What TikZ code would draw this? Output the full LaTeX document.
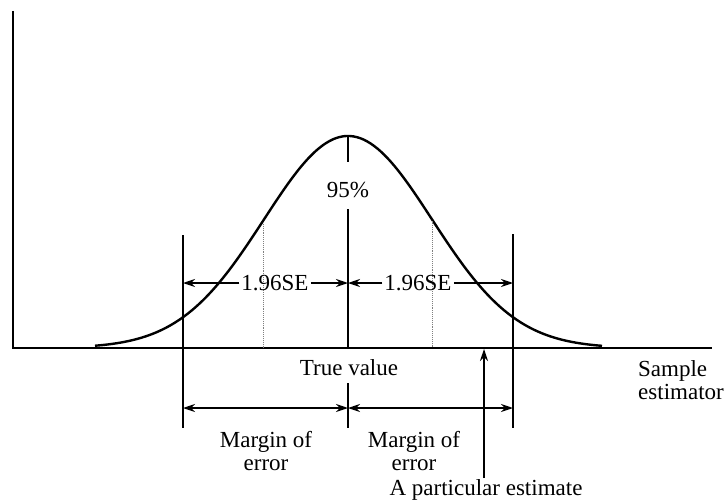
\documentclass[tikz,border=0pt]{standalone}
\usepackage{fontspec}
\setmainfont{Liberation Serif}
\usetikzlibrary{arrows.meta}
\begin{document}
\begin{tikzpicture}[x=1pt,y=-1pt,
  lbl/.style={font=\fontsize{23}{23}\selectfont, inner sep=2pt, align=center},
  axisline/.style={line width=1.4pt},
  bound/.style={line width=1.3pt},
  curveline/.style={line width=2.4pt},
  sdline/.style={gray, densely dotted, line width=0.9pt},
  tipone/.style={-{Stealth[length=12pt,width=8pt]}, line width=1.3pt},
  tiptwo/.style={{Stealth[length=12pt,width=8pt]}-{Stealth[length=12pt,width=8pt]}, line width=1.3pt}]
\useasboundingbox (0,0) rectangle (725,503);
% axes
\coordinate (O) at (13,348);
\coordinate (Ytop) at (13,11);
\coordinate (Xend) at (712,348);
\draw[axisline] (Ytop) -- (O) -- (Xend);
% curve
\draw[curveline, domain=95:602, samples=150, smooth]
  plot (\x, {348-212*exp(-0.5*((\x-348)/84)^2)});
% center line
\coordinate (peak) at (348,136);
\coordinate (peakb) at (348,162);
\coordinate (cmid) at (348,209);
\coordinate (caxis) at (348,348);
\coordinate (ctop2) at (348,383);
\coordinate (cbot) at (348,428);
\node[lbl] (p95) at (348,190) {95\%};
\draw[bound] (peak) -- (peakb);
\draw[bound] (cmid) -- (caxis);
\draw[bound] (ctop2) -- (cbot);
% bounds
\coordinate (Lt) at (183,235);
\coordinate (Lb) at (183,428);
\coordinate (Rt) at (513,234);
\coordinate (Rb) at (513,428);
\draw[bound] (Lt) -- (Lb);
\draw[bound] (Rt) -- (Rb);
% 1 SE dotted lines
\coordinate (s1t) at (263,222);
\coordinate (s1b) at (263,348);
\coordinate (s2t) at (432,221);
\coordinate (s2b) at (432,348);
\draw[sdline] (s1t) -- (s1b);
\draw[sdline] (s2t) -- (s2b);
% 1.96SE arrows
\coordinate (La) at (183,283);
\coordinate (Ca) at (348,283);
\coordinate (Ra) at (513,283);
\node[lbl] (se1) at (275,283) {1.96SE};
\node[lbl] (se2) at (418,283) {1.96SE};
\draw[tipone] (se1.west) -- (La);
\draw[tipone] (se1.east) -- (Ca);
\draw[tipone] (se2.west) -- (Ca);
\draw[tipone] (se2.east) -- (Ra);
% margin arrows
\coordinate (Lm) at (183,408);
\coordinate (Cm) at (348,408);
\coordinate (Rm) at (513,408);
\draw[tiptwo] (Lm) -- (Cm);
\draw[tiptwo] (Cm) -- (Rm);
% labels
\node[lbl] (tv) at (349,368) {True value};
\node[lbl] (me1) at (266,451) {Margin of\\error};
\node[lbl] (me2) at (414,451) {Margin of\\error};
\node[lbl, anchor=west, align=left] (se) at (636,380) {Sample\\estimator};
% particular estimate
\node[lbl] (pe) at (486,490) {A particular estimate};
\coordinate (pebot) at (484,478);
\coordinate (petop) at (484,349);
\draw[tipone] (pebot) -- (petop);
\end{tikzpicture}
\end{document}
